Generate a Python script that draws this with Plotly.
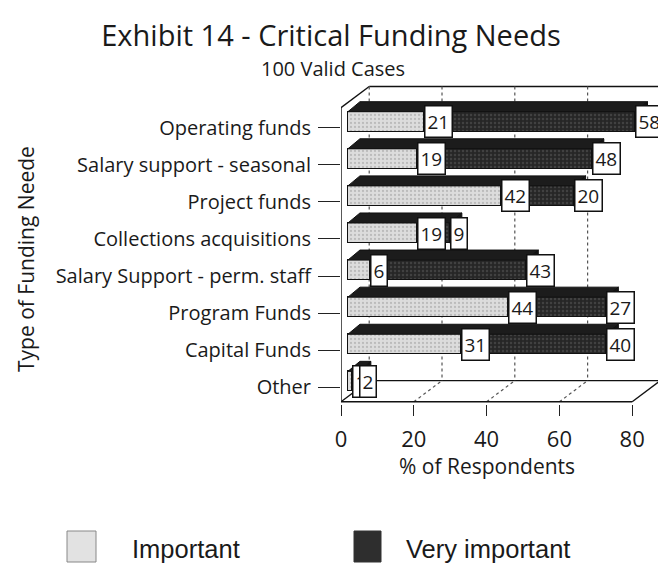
import plotly.graph_objects as go

# Survey results: share of respondents rating each funding type
categories = [
    "Operating funds",
    "Salary support - seasonal",
    "Project funds",
    "Collections acquisitions",
    "Salary Support - perm. staff",
    "Program Funds",
    "Capital Funds",
    "Other",
]
important = [21, 19, 42, 19, 6, 44, 31, 1]
very_important = [58, 48, 20, 9, 43, 27, 40, 2]
x_ticks = [0, 20, 40, 60, 80]

FONT = "Open Sans"
INK = "#1a1a1a"
pos = list(range(len(categories)))

# pseudo-3D geometry (data units)
BOX_DX, BOX_DY = 7.75, 0.57      # depth of the frame box
BAR_DX, BAR_DY = 3.3, 0.27       # depth of each bar
BAR_OFF, BAR_W = -0.43, 0.54     # front face of bar relative to category
FRONT_TOP, FRONT_BOT = -0.54, 7.39
X_MAX = 80
BAR_SHIFT = 1.9                  # bars sit slightly back inside the box

fig = go.Figure()

fig.add_trace(go.Bar(
    y=pos, x=important, orientation="h", name="Important",
    xaxis="x2", yaxis="y", offset=BAR_OFF, width=BAR_W,
    marker=dict(color="#dcdcdc", line=dict(color="#111", width=1),
                pattern=dict(shape=".", bgcolor="#dcdcdc", fgcolor="#9a9a9a",
                             size=4, solidity=0.25, fillmode="overlay")),
    showlegend=False, hoverinfo="skip",
))
fig.add_trace(go.Bar(
    y=pos, x=very_important, orientation="h", name="Very important",
    xaxis="x2", yaxis="y", offset=BAR_OFF, width=BAR_W,
    marker=dict(color="#262626", line=dict(color="#111", width=1),
                pattern=dict(shape=".", bgcolor="#262626", fgcolor="#5c5c5c",
                             size=4, solidity=0.3, fillmode="overlay")),
    showlegend=False, hoverinfo="skip",
))

shapes = []
line_k = dict(color="#111", width=1.4)
dot_k = dict(color="#555", width=1.2, dash="dot")


def seg(x0, y0, x1, y1, line, xref="x", layer="below"):
    shapes.append(dict(type="line", x0=x0, y0=y0, x1=x1, y1=y1,
                       xref=xref, yref="y", line=line, layer=layer))


# frame box
seg(0, FRONT_TOP, 0, FRONT_BOT, line_k, layer="above")
seg(0, FRONT_BOT, X_MAX, FRONT_BOT, line_k, layer="above")
seg(0, FRONT_TOP, BOX_DX, FRONT_TOP - BOX_DY, line_k)
seg(BOX_DX, FRONT_TOP - BOX_DY, X_MAX + BOX_DX + 5, FRONT_TOP - BOX_DY, line_k)
seg(0, FRONT_BOT, BOX_DX, FRONT_BOT - BOX_DY, line_k)
seg(BOX_DX, FRONT_BOT - BOX_DY, X_MAX + BOX_DX + 5, FRONT_BOT - BOX_DY, line_k)
seg(X_MAX, FRONT_BOT, X_MAX + BOX_DX, FRONT_BOT - BOX_DY, line_k, layer="above")
seg(BOX_DX, FRONT_TOP - BOX_DY, BOX_DX, FRONT_BOT - BOX_DY, dot_k)

# gridlines on the back wall and floor
for v in x_ticks[1:-1]:
    seg(v + BOX_DX, FRONT_TOP - BOX_DY, v + BOX_DX, FRONT_BOT - BOX_DY, dot_k)
    seg(v, FRONT_BOT, v + BOX_DX, FRONT_BOT - BOX_DY, dot_k)

# top and end faces of each stacked bar
for i, (a, b) in enumerate(zip(important, very_important)):
    yt = i + BAR_OFF
    yb = yt + BAR_W
    end = a + b
    top = (f"M 0,{yt} L {BAR_DX},{yt - BAR_DY} L {end + BAR_DX},{yt - BAR_DY} "
           f"L {end},{yt} Z")
    side = (f"M {end},{yt} L {end + BAR_DX},{yt - BAR_DY} "
            f"L {end + BAR_DX},{yb - BAR_DY} L {end},{yb} Z")
    for p, c in ((top, "#1c1c1c"), (side, "#141414")):
        shapes.append(dict(type="path", path=p, xref="x2", yref="y",
                           fillcolor=c, line=dict(color="#111", width=1),
                           layer="above"))

# boxed value labels at the end of each segment
annotations = []
for i, (a, b) in enumerate(zip(important, very_important)):
    for xe, v in ((a, a), (a + b, b)):
        annotations.append(dict(
            x=xe, y=i + BAR_OFF + BAR_W / 2, xref="x2", yref="y",
            text=str(v), showarrow=False, xanchor="left", yanchor="middle",
            bgcolor="white", bordercolor="#111", borderwidth=1.5, borderpad=2,
            font=dict(family=FONT, size=19, color=INK),
        ))

# plot-area pixel mapping helpers for paper-anchored text
L, T, W, H = 341, 85, 317, 319


def px(xp):
    return (xp - L) / W


def py(yp):
    return (T + H - yp) / H


annotations += [
    dict(text="100 Valid Cases", x=px(333), y=py(68), xref="paper", yref="paper",
         showarrow=False, xanchor="center", yanchor="middle",
         font=dict(family=FONT, size=20, color=INK)),
    dict(text="Type of Funding Neede", x=px(26), y=py(259), xref="paper",
         yref="paper", showarrow=False, textangle=-90, xanchor="center",
         yanchor="middle", font=dict(family=FONT, size=21, color=INK)),
    dict(text="% of Respondents", x=px(487), y=py(466), xref="paper",
         yref="paper", showarrow=False, xanchor="center", yanchor="middle",
         font=dict(family=FONT, size=21, color=INK)),
    dict(text="Important", x=px(130), y=py(549), xref="paper", yref="paper",
         showarrow=False, xanchor="left", yanchor="middle",
         font=dict(family="Liberation Sans", size=25.5, color=INK)),
    dict(text="Very important", x=px(404), y=py(549), xref="paper",
         yref="paper", showarrow=False, xanchor="left", yanchor="middle",
         font=dict(family="Liberation Sans", size=25.5, color=INK)),
]

# legend swatches
shapes += [
    dict(type="rect", xref="paper", yref="paper", x0=px(67), x1=px(96),
         y0=py(562), y1=py(531), fillcolor="#e2e2e2",
         line=dict(color="#888", width=1)),
    dict(type="rect", xref="paper", yref="paper", x0=px(354), x1=px(381),
         y0=py(562), y1=py(531), fillcolor="#2e2e2e",
         line=dict(color="#333", width=1)),
]

fig.update_layout(
    width=658, height=564,
    margin=dict(l=L, r=658 - L - W, t=T, b=564 - T - H),
    paper_bgcolor="white", plot_bgcolor="white",
    barmode="stack", bargap=0,
    title=dict(text="Exhibit 14 - Critical Funding Needs", x=331 / 658,
               xanchor="center", y=1 - 36 / 564, yanchor="middle",
               font=dict(family=FONT, size=29, color=INK)),
    xaxis=dict(range=[0, W / 3.64], tickvals=x_ticks, showgrid=False,
               zeroline=False, showline=False, ticks="outside", ticklen=11,
               tickcolor="#222", tickwidth=1.2, ticklabelstandoff=5,
               tickfont=dict(family=FONT, size=22, color=INK)),
    xaxis2=dict(range=[-BAR_SHIFT, W / 3.64 - BAR_SHIFT], overlaying="x",
                visible=False),
    yaxis=dict(range=[FRONT_BOT + 0.06, -1.15], tickvals=pos,
               ticktext=categories, showgrid=False, zeroline=False,
               showline=False, ticks="outside", ticklen=22, tickcolor="#222",
               tickwidth=1.2, ticklabelstandoff=3,
               tickfont=dict(family=FONT, size=20, color=INK)),
    shapes=shapes,
    annotations=annotations,
)

fig.write_html("out.html")
